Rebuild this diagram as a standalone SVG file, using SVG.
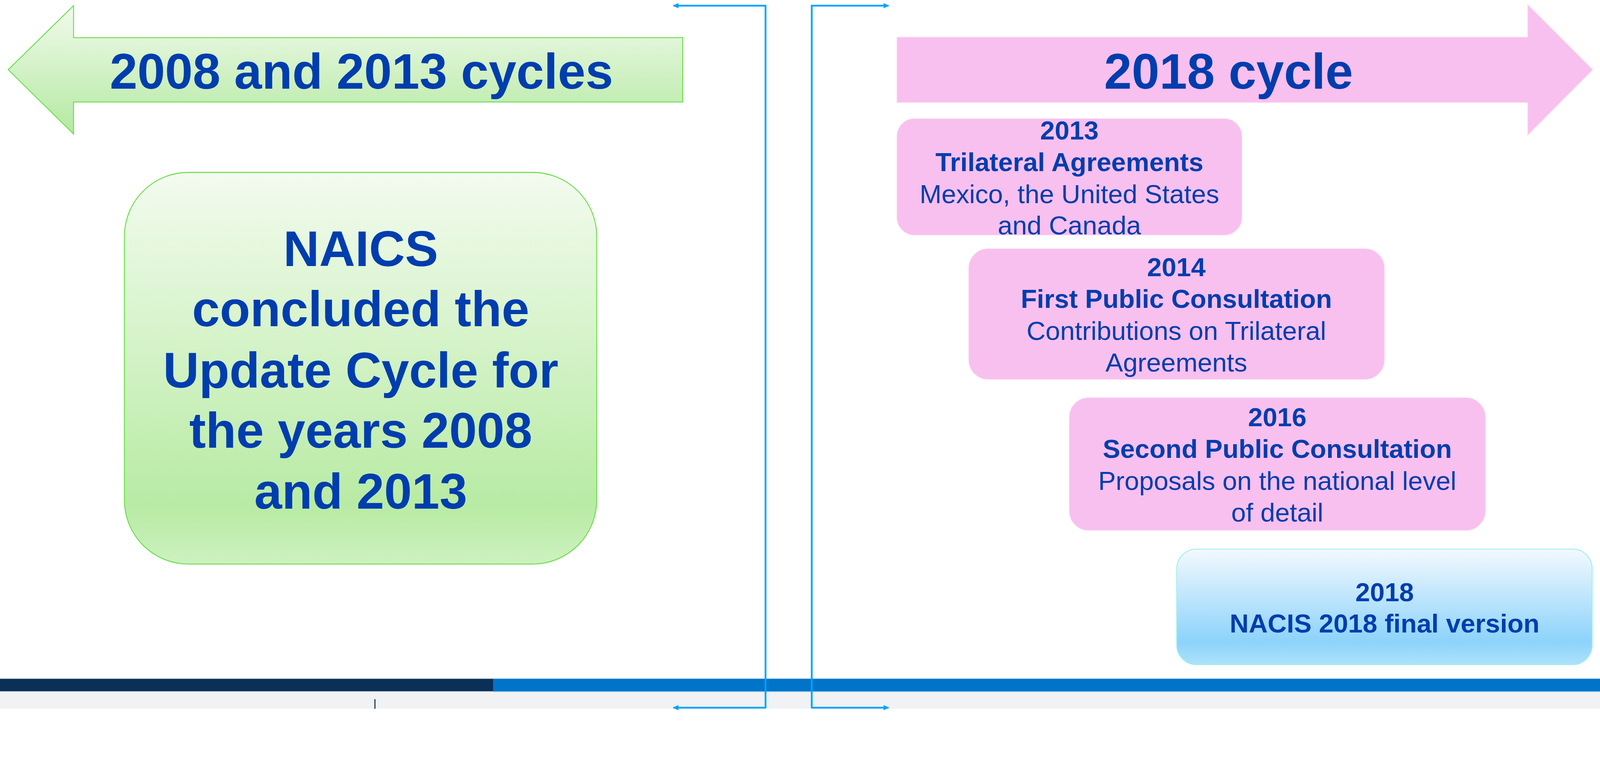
<svg xmlns="http://www.w3.org/2000/svg" width="4502" height="1994" viewBox="0 0 4502 1994" preserveAspectRatio="xMinYMin meet">
  <defs>
    <linearGradient id="gGreen" x1="0" y1="0" x2="0" y2="1">
      <stop offset="0" stop-color="#f3fbef"/>
      <stop offset="0.85" stop-color="#b8eba4"/>
      <stop offset="1" stop-color="#cdf1bf"/>
    </linearGradient>
    <linearGradient id="gGreenArrow" x1="0" y1="0" x2="0" y2="1">
      <stop offset="0" stop-color="#f1faed"/>
      <stop offset="1" stop-color="#b4e9a0"/>
    </linearGradient>
    <linearGradient id="gBlue" x1="0" y1="0" x2="0" y2="1">
      <stop offset="0" stop-color="#f3f9fe"/>
      <stop offset="0.8" stop-color="#8dd3fb"/>
      <stop offset="1" stop-color="#ace2fb"/>
    </linearGradient>
    <marker id="ah" viewBox="0 0 16 15" refX="14" refY="7.5" markerWidth="16" markerHeight="15" markerUnits="userSpaceOnUse" orient="auto-start-reverse">
      <path d="M0,0 L16,7.5 L0,15 z" fill="#00a2ff"/>
    </marker>
    <style>
      svg:root { width: 100vw; height: 100vh; }
      .t { font-family: "Liberation Sans", Arial, Helvetica, sans-serif; fill: #003dae; text-anchor: middle; }
      .b { font-weight: bold; }
      .big { font-size: 140px; font-weight: bold; }
      .sm { font-size: 74px; }
      .pink { fill: #f8c0ee; stroke: #fad0f2; stroke-width: 2; }
      .conn { fill: none; stroke: #00a2ff; stroke-width: 5; stroke-linejoin: round; marker-start: url(#ah); marker-end: url(#ah); }
    </style>
  </defs>
  <rect x="0" y="0" width="4502" height="1994" fill="#ffffff"/>

  <g id="footer">
    <rect x="0" y="1945" width="4502" height="49" fill="#f0f2f4"/>
    <rect x="0" y="1909" width="1388" height="36" fill="#0a3058"/>
    <rect x="1388" y="1909" width="3114" height="36" fill="#0074c8"/>
    <line x1="0" y1="1909.5" x2="4502" y2="1909.5" stroke="#b9c6d6" stroke-width="1"/>
    <line x1="0" y1="1945" x2="1388" y2="1945" stroke="#8496ad" stroke-width="1.5"/>
    <line x1="1388" y1="1945.5" x2="4502" y2="1945.5" stroke="#6fb0e2" stroke-width="2"/>
    <line x1="1055" y1="1967" x2="1055" y2="1994" stroke="#0a3058" stroke-width="3"/>
  </g>

  <g id="arrow-2008-2013">
    <polygon points="23,196 207,16 207,106 1921,106 1921,287 207,287 207,377" fill="url(#gGreenArrow)" stroke="#66dd44" stroke-width="2.5"/>
    <text class="t big" x="1017" y="249">2008 and 2013 cycles</text>
  </g>

  <g id="box-naics">
    <rect x="350" y="485" width="1329" height="1102" rx="180" ry="180" fill="url(#gGreen)" stroke="#66dd44" stroke-width="2.5"/>
    <text class="t big" x="1015" y="749">NAICS</text>
    <text class="t big" x="1015" y="918">concluded the</text>
    <text class="t big" x="1015" y="1090">Update Cycle for</text>
    <text class="t big" x="1015" y="1260">the years 2008</text>
    <text class="t big" x="1015" y="1431">and 2013</text>
  </g>

  <g id="arrow-2018">
    <polygon points="2524,105 4299,105 4299,14 4481,196 4299,379 4299,288 2524,288" fill="#f8c0ee" stroke="#fad0f2" stroke-width="2"/>
    <text class="t big" x="3457" y="250">2018 cycle</text>
  </g>

  <g id="box-2013">
    <rect class="pink" x="2524" y="334" width="970" height="327" rx="50" ry="50"/>
    <text class="t sm b" x="3009" y="392">2013</text>
    <text class="t sm b" x="3009" y="481">Trilateral Agreements</text>
    <text class="t sm" x="3009" y="571">Mexico, the United States</text>
    <text class="t sm" x="3009" y="660">and Canada</text>
  </g>

  <g id="box-2014">
    <rect class="pink" x="2726" y="700" width="1169" height="367" rx="55" ry="55"/>
    <text class="t sm b" x="3310" y="777">2014</text>
    <text class="t sm b" x="3310" y="866">First Public Consultation</text>
    <text class="t sm" x="3310" y="956">Contributions on Trilateral</text>
    <text class="t sm" x="3310" y="1045">Agreements</text>
  </g>

  <g id="box-2016">
    <rect class="pink" x="3009" y="1119" width="1170" height="373" rx="55" ry="55"/>
    <text class="t sm b" x="3594" y="1199">2016</text>
    <text class="t sm b" x="3594" y="1288">Second Public Consultation</text>
    <text class="t sm" x="3594" y="1378">Proposals on the national level</text>
    <text class="t sm" x="3594" y="1467">of detail</text>
  </g>

  <g id="box-2018">
    <rect x="3311" y="1545" width="1169" height="325" rx="55" ry="55" fill="url(#gBlue)" stroke="#a0eeee" stroke-width="2.5"/>
    <text class="t sm b" x="3896" y="1691">2018</text>
    <text class="t sm b" x="3896" y="1780">NACIS 2018 final version</text>
  </g>

  <g id="connectors">
    <path class="conn" d="M1895,16 L2154,16 L2154,1991 L1895,1991"/>
    <path class="conn" d="M2500,16 L2284,16 L2284,1991 L2500,1991"/>
  </g>
</svg>
